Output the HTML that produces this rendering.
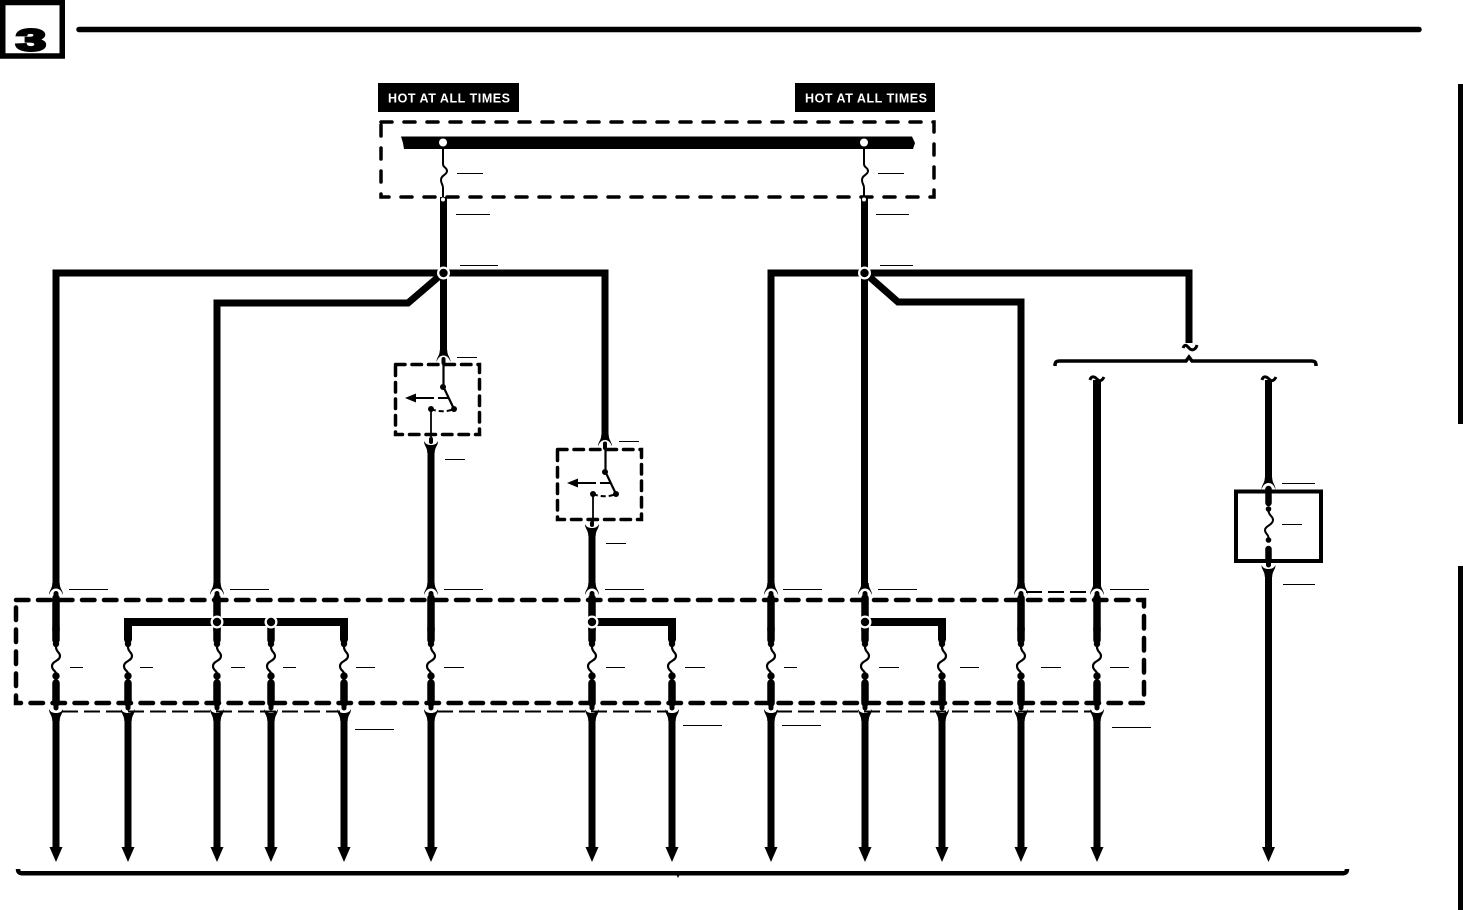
<!DOCTYPE html>
<html><head><meta charset="utf-8"><style>
html,body{margin:0;padding:0;background:#fff;width:1463px;height:910px;overflow:hidden}
svg{display:block}
text{font-family:"Liberation Sans",sans-serif;font-weight:bold}
</style></head><body>
<svg width="1463" height="910" viewBox="0 0 1463 910" xmlns="http://www.w3.org/2000/svg">
<defs>
<path id="up" d="M-7 595C-7 590-3.700 589-3.700 583L3.700 583C3.700 589 7 590 7 595C5.500 591 3.500 588.500 0 588.500C-3.500 588.500-5.500 591-7 595Z"/>
<path id="dn" d="M-7 709C-5.500 712-3.500 713 0 713C3.500 713 5.500 712 7 709C7 714 3.700 715 3.700 721L-3.700 721C-3.700 715-7 714-7 709Z"/>
<g id="f">
<path d="M0 628V640" stroke="#000" stroke-width="7.500" stroke-linecap="round" fill="none"/>
<path d="M0 683V703" stroke="#000" stroke-width="7.500" stroke-linecap="round" fill="none"/>
<path d="M0 703V708" stroke="#000" stroke-width="5" stroke-linecap="round" fill="none"/>
<circle cx="0" cy="644" r="3.200"/><circle cx="0" cy="676" r="3.700"/>
<path d="M0 647C0 652 4 652 4 656C4 661-4 661-4 666C-4 671 0 670 0 674" stroke="#000" stroke-width="2.200" fill="none"/>
<path d="M-6.200 710H6.200" stroke="#fff" stroke-width="0"/>
<use href="#dn"/>
<path d="M0 718V850" stroke="#000" stroke-width="7"/>
<path d="M-6.500 847H6.500L0 862Z"/>
</g>
<g id="t"><use href="#up"/>
<path d="M0 593.500V598" stroke="#000" stroke-width="5" stroke-linecap="round"/>
<path d="M0 598V630" stroke="#000" stroke-width="7.500" stroke-linecap="round"/></g>
<g id="j"><circle r="6.500" fill="#fff"/><circle r="4.200"/></g>
</defs>

<!-- header -->
<rect x="2.750" y="2.500" width="59.500" height="53.500" fill="#fff" stroke="#000" stroke-width="5.500"/>
<text x="16" y="50.500" font-size="31" textLength="30" lengthAdjust="spacingAndGlyphs" stroke="#000" stroke-width="2.500">3</text>
<path d="M79 29.500H1419" stroke="#000" stroke-width="5.500" stroke-linecap="round"/>
<rect x="1458" y="84" width="5" height="340"/>
<rect x="1458" y="566" width="5" height="344"/>

<!-- hot labels -->
<rect x="378" y="83" width="141" height="29"/>
<rect x="795" y="83" width="140" height="29"/>
<text x="388" y="102.500" font-size="12.500" fill="#fff" textLength="122" lengthAdjust="spacing">HOT AT ALL TIMES</text>
<text x="805" y="102.500" font-size="12.500" fill="#fff" textLength="122" lengthAdjust="spacing">HOT AT ALL TIMES</text>

<!-- top fuse box -->
<rect x="381" y="122" width="553" height="75" fill="none" stroke="#000" stroke-width="3.500" stroke-dasharray="11 12" stroke-linecap="round"/>
<path d="M401 136.500H912L915 143L913 149H404L403 143Z"/>
<circle cx="443" cy="142.500" r="4" fill="#fff"/><circle cx="864" cy="142.500" r="4" fill="#fff"/>
<path d="M443 148V164C443 168 447 167 447 171C447 175 441 175 441 180C441 184 443 184 443 188V198M864 148V164C864 168 868 167 868 171C868 175 862 175 862 180C862 184 864 184 864 188V198" fill="none" stroke="#000" stroke-width="2"/>

<!-- wiring -->
<g fill="none" stroke="#000" stroke-width="7">
<path d="M443.500 197V352"/>
<path d="M864.500 197V588"/>
<path d="M56 588V273H605V436"/>
<path d="M217 588V303H408L443 273"/>
<path d="M771 588V273H1189V343"/>
<path d="M865 273L898 302H1021V588"/>
<path d="M1097 380V588" stroke-width="8"/>
<path d="M1268.500 380V480"/>
<path d="M431 449V588"/>
<path d="M592 532V588"/>
<path d="M128 640V622H344V640" stroke-width="8"/>
<path d="M592 622H672V640" stroke-width="8"/>
<path d="M865 622H942V640" stroke-width="8"/>
</g>
<circle cx="443" cy="199.500" r="2" fill="#fff"/><circle cx="864" cy="199.500" r="2" fill="#fff"/>

<!-- thin dashes -->
<g fill="none" stroke="#000" stroke-width="2" stroke-dasharray="16 6">
<path d="M62 711.500H340"/><path d="M437 711.500H668"/><path d="M776 711.500H1092"/>
<path d="M1026 592H1092"/>
</g>

<!-- lower fuse block dashed -->
<rect x="16" y="600" width="1128" height="103" fill="none" stroke="#000" stroke-width="4.500" stroke-dasharray="12.500 9.500" stroke-linecap="round"/>

<!-- columns -->
<use href="#f" x="56"/><use href="#f" x="128"/><use href="#f" x="217"/><use href="#f" x="271"/>
<use href="#f" x="344"/><use href="#f" x="431"/><use href="#f" x="592"/><use href="#f" x="672"/>
<use href="#f" x="771"/><use href="#f" x="865"/><use href="#f" x="942"/><use href="#f" x="1021"/><use href="#f" x="1097"/>
<use href="#t" x="56"/><use href="#t" x="217"/><use href="#t" x="431"/><use href="#t" x="592"/>
<use href="#t" x="771"/><use href="#t" x="865"/><use href="#t" x="1021"/><use href="#t" x="1097"/>
<use href="#j" x="217" y="622"/><use href="#j" x="271" y="622"/><use href="#j" x="592" y="622"/><use href="#j" x="865" y="622"/>
<use href="#j" x="443.500" y="273"/><use href="#j" x="864.500" y="273"/>

<!-- switch 1 -->
<g id="sw">
<rect x="395.500" y="364.500" width="84" height="70" fill="none" stroke="#000" stroke-width="3.500" stroke-dasharray="9.500 7" stroke-linecap="round"/>
<path d="M443.500 358V387L454 409" fill="none" stroke="#000" stroke-width="2.200"/>
<path d="M431 409C438 412 447 412 454 409" fill="none" stroke="#000" stroke-width="2" stroke-dasharray="5 3"/>
<path d="M431 409V438" fill="none" stroke="#000" stroke-width="1.800"/>
<path d="M415 398H434M438 398H449" fill="none" stroke="#000" stroke-width="2"/>
<path d="M405 398L416 393.500V402.500Z"/>
<circle cx="443" cy="387" r="3"/><circle cx="454" cy="409" r="3"/><circle cx="431" cy="409" r="3"/>
</g>
<use href="#up" x="443.500" y="-233"/>
<path d="M443.500 359V363" stroke="#000" stroke-width="4" stroke-linecap="round"/>
<path d="M431 439V442" stroke="#000" stroke-width="4" stroke-linecap="round"/>
<use href="#dn" x="431" y="-268"/>
<!-- switch 2 -->
<use href="#sw" x="162" y="85"/>
<use href="#up" x="605" y="-148.500"/>
<path d="M605 443.500V448" stroke="#000" stroke-width="4" stroke-linecap="round"/>
<path d="M592 523V525" stroke="#000" stroke-width="4" stroke-linecap="round"/>
<use href="#dn" x="592" y="-185"/>

<!-- right branch -->
<path d="M1183 348C1185 343 1187 346 1190 349C1193 351 1196 349 1197 345" fill="none" stroke="#000" stroke-width="3"/>
<path d="M1055 366C1055 362 1056 361 1060 361H1186L1189 357L1192 361H1311C1315 361 1316 362 1316 366" fill="none" stroke="#000" stroke-width="3.500"/>
<path d="M1090 380C1091 376 1094 376 1097 379C1099 382 1102 381 1104 377" fill="none" stroke="#000" stroke-width="3"/>
<path d="M1262 380C1263 376 1266 376 1269 379C1271 382 1274 381 1276 377" fill="none" stroke="#000" stroke-width="3"/>

<!-- box fuse -->
<rect x="1236" y="491.500" width="85" height="69.500" fill="none" stroke="#000" stroke-width="4"/>
<use href="#up" x="1268.500" y="-105.500"/>
<path d="M1268.500 489V503M1268.500 549V561" stroke="#000" stroke-width="6.500" stroke-linecap="round"/>
<path d="M1268.500 561V565" stroke="#000" stroke-width="5" stroke-linecap="round"/>
<circle cx="1268.500" cy="509" r="2.800"/><circle cx="1268.500" cy="540" r="2.800"/>
<path d="M1268.500 511C1269 516 1273 516 1273 520C1273 525 1265 526 1265 530C1265 534 1268.500 534 1268.500 538" fill="none" stroke="#000" stroke-width="2"/>
<use href="#dn" x="1268.500" y="-144"/>
<path d="M1268.500 575V850" stroke="#000" stroke-width="7"/>
<path d="M1262 847H1275L1268.500 862Z"/>

<!-- bottom brace -->
<path d="M18 869C18 872 19 873.300 23 873.300H1342C1346 873.300 1347 872 1347 869" fill="none" stroke="#000" stroke-width="4.500"/>
<path d="M676 874H680L678 878Z"/>

<!-- leader lines -->
<g stroke="#000" stroke-width="1" fill="none">
<path d="M457 173.500H483M456 214.500H490M460 265.500H498M878 173.500H904M876 214.500H909M880 265.500H913"/>
<path d="M457 357.500H477M445 459.500H465M619 441.500H639M606 543.500H626"/>
<path d="M1282 483.500H1315M1282 524.500H1302M1283 584.500H1315"/>
<path d="M69 589.500H108M230 589.500H269M444 589.500H483M605 589.500H644M783 589.500H822M878 589.500H917M1110 589.500H1149"/>
<path d="M70 667.500H83M140 667.500H153M231 667.500H245M283 667.500H296M356 667.500H375M444 667.500H464M606 667.500H625M685 667.500H705M784 667.500H797M879 667.500H899M960 667.500H979M1041 667.500H1061M1110 667.500H1129"/>
<path d="M355 729.500H394M683 725.500H722M782 725.500H821M1112 727.500H1151"/>
</g>
</svg>
</body></html>
